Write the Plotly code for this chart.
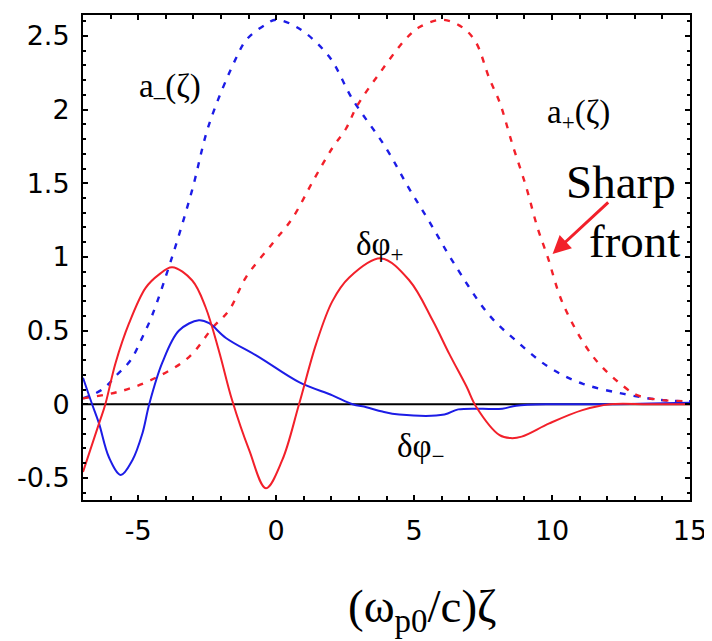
import plotly.graph_objects as go

# ---- data ----
a_minus_x = [-7, -6.3, -5.77, -5.27, -4.86, -4.5, -3.77, -3.05, -2.43, -1.45, -1.05, -0.36, 0,
             0.83, 1.92, 2.77, 3.98, 4.8, 5.55, 6.4, 7.7, 8.7, 9.9, 11.1, 12.6, 13.9, 15]
a_minus_y = [0.04, 0.1, 0.2, 0.3, 0.45, 0.6, 1.0, 1.45, 1.9, 2.35, 2.48, 2.58, 2.61,
             2.55, 2.36, 2.07, 1.74, 1.47, 1.24, 0.97, 0.61, 0.43, 0.25, 0.14, 0.07, 0.03, 0.02]

a_plus_x = [-7, -5.6, -4.36, -3.16, -2.3, -1.7, -1.1, -0.14, 0.58, 1.38, 2.04, 2.53, 2.95, 3.8,
            4.7, 5.2, 6.0, 6.65, 7.2, 7.73, 8.1, 8.57, 9.07, 9.47, 9.84, 10.4, 11.5, 12.6, 13.1,
            13.9, 15]
a_plus_y = [0.04, 0.09, 0.18, 0.32, 0.52, 0.64, 0.86, 1.09, 1.26, 1.53, 1.74, 1.87, 2.03, 2.26,
            2.48, 2.56, 2.61, 2.57, 2.47, 2.21, 2.05, 1.76, 1.47, 1.2, 1.0, 0.68, 0.32, 0.12, 0.06,
            0.03, 0.02]

dphi_plus_x = [-7, -6.4, -6.19, -5.82, -5.33, -4.73, -4.25, -3.77, -3.04, -2.56, -2.07, -1.6,
               -0.98, -0.37, 0.22, 0.83, 1.45, 2.04, 2.65, 3.8, 4.83, 5.67, 6.28, 6.9, 7.26,
               8.1, 8.5, 8.9, 9.9, 11.1, 12.1, 13.5, 15]
dphi_plus_y = [-0.46, -0.12, 0.0, 0.28, 0.55, 0.79, 0.88, 0.93, 0.84, 0.66, 0.36, 0.03,
               -0.31, -0.57, -0.38, 0.0, 0.41, 0.70, 0.86, 0.99, 0.84, 0.57, 0.34, 0.12, -0.02,
               -0.21, -0.23, -0.22, -0.13, -0.04, 0.0, 0.0, 0.0]

dphi_minus_x = [-7, -6.67, -6.42, -6.06, -5.63, -5.21, -4.85, -4.6, -4.13, -3.52, -2.8, -2.43,
                -1.82, -0.62, 0.83, 2.04, 2.77, 3.27, 3.85, 4.46, 6.1, 6.6, 8.2, 8.7, 10, 12, 15]
dphi_minus_y = [0.18, 0.0, -0.13, -0.36, -0.48, -0.38, -0.2, 0.0, 0.28, 0.5, 0.57, 0.55,
                0.45, 0.32, 0.15, 0.06, 0.0, -0.02, -0.05, -0.07, -0.07, -0.035, -0.03, -0.01,
                0.0, 0.0, 0.01]

x_tick_vals = [-5, 0, 5, 10, 15]
x_tick_text = ["-5", "0", "5", "10", "15"]
y_tick_vals = [-0.5, 0, 0.5, 1, 1.5, 2, 2.5]
y_tick_text = ["-0.5", "0", "0.5", "1", "1.5", "2", "2.5"]

RED = "#f2202a"
BLUE = "#1c1ce6"

fig = go.Figure()

# zero line
fig.add_trace(go.Scatter(x=[-7, 15], y=[0, 0], mode="lines",
                         line=dict(color="black", width=2), hoverinfo="skip"))

fig.add_trace(go.Scatter(x=a_minus_x, y=a_minus_y, mode="lines", line_shape="spline",
                         line=dict(color=BLUE, width=2.4, dash="6px,8px")))
fig.add_trace(go.Scatter(x=a_plus_x, y=a_plus_y, mode="lines", line_shape="spline",
                         line=dict(color=RED, width=2.4, dash="6px,8px")))
fig.add_trace(go.Scatter(x=dphi_minus_x, y=dphi_minus_y, mode="lines", line_shape="spline",
                         line=dict(color=BLUE, width=2)))
fig.add_trace(go.Scatter(x=dphi_plus_x, y=dphi_plus_y, mode="lines", line_shape="spline",
                         line=dict(color=RED, width=2)))

serif = "Liberation Serif"
ann = [
    dict(x=-3.85, y=2.14, text="a<sub>–</sub>(ζ)", size=33),
    dict(x=10.96, y=1.97, text="a<sub>+</sub>(ζ)", size=33),
    dict(x=12.49, y=1.51, text="Sharp", size=47),
    dict(x=13.0, y=1.11, text="front", size=47),
    dict(x=3.78, y=1.07, text="δφ<sub>+</sub>", size=33),
    dict(x=5.26, y=-0.30, text="δφ<sub>−</sub>", size=33),
]
for a in ann:
    fig.add_annotation(x=a["x"], y=a["y"], text=a["text"], showarrow=False,
                       font=dict(family=serif, size=a["size"], color="black"),
                       xanchor="center", yanchor="middle")

# red arrow
fig.add_annotation(x=10.02, y=1.02, ax=12.09, ay=1.38, axref="x", ayref="y",
                   xref="x", yref="y", text="", showarrow=True,
                   arrowhead=2, arrowsize=1.2, arrowwidth=3, arrowcolor=RED)

# x-axis title
fig.add_annotation(x=0.56, y=-0.226, xref="paper", yref="paper",
                   text="(ω<sub>p0</sub>/c)ζ", showarrow=False,
                   font=dict(family=serif, size=47, color="black"),
                   xanchor="center", yanchor="middle")

axis_common = dict(showgrid=False, zeroline=False, showline=True, linecolor="black",
                   linewidth=2, mirror="ticks", ticks="inside", tickcolor="black",
                   tickwidth=2, ticklen=5,
                   tickfont=dict(family="DejaVu Sans", size=27, color="black"))

fig.update_xaxes(range=[-7, 15], tickvals=x_tick_vals, ticktext=x_tick_text,
                 minor=dict(dtick=1, ticks="inside", ticklen=4, tickcolor="black", tickwidth=2),
                 ticklabelstandoff=6, **axis_common)
fig.update_yaxes(range=[-0.65, 2.642], tickvals=y_tick_vals, ticktext=y_tick_text,
                 minor=dict(dtick=0.1, ticks="inside", ticklen=3, tickcolor="black", tickwidth=2),
                 ticklabelstandoff=6, **axis_common)

# the page body adds an 8px margin, so the figure is sized and padded to compensate
fig.update_layout(width=704, height=633, showlegend=False,
                  plot_bgcolor="white", paper_bgcolor="white",
                  margin=dict(l=75, r=22, t=5, b=141))

fig.write_html("out.html")
